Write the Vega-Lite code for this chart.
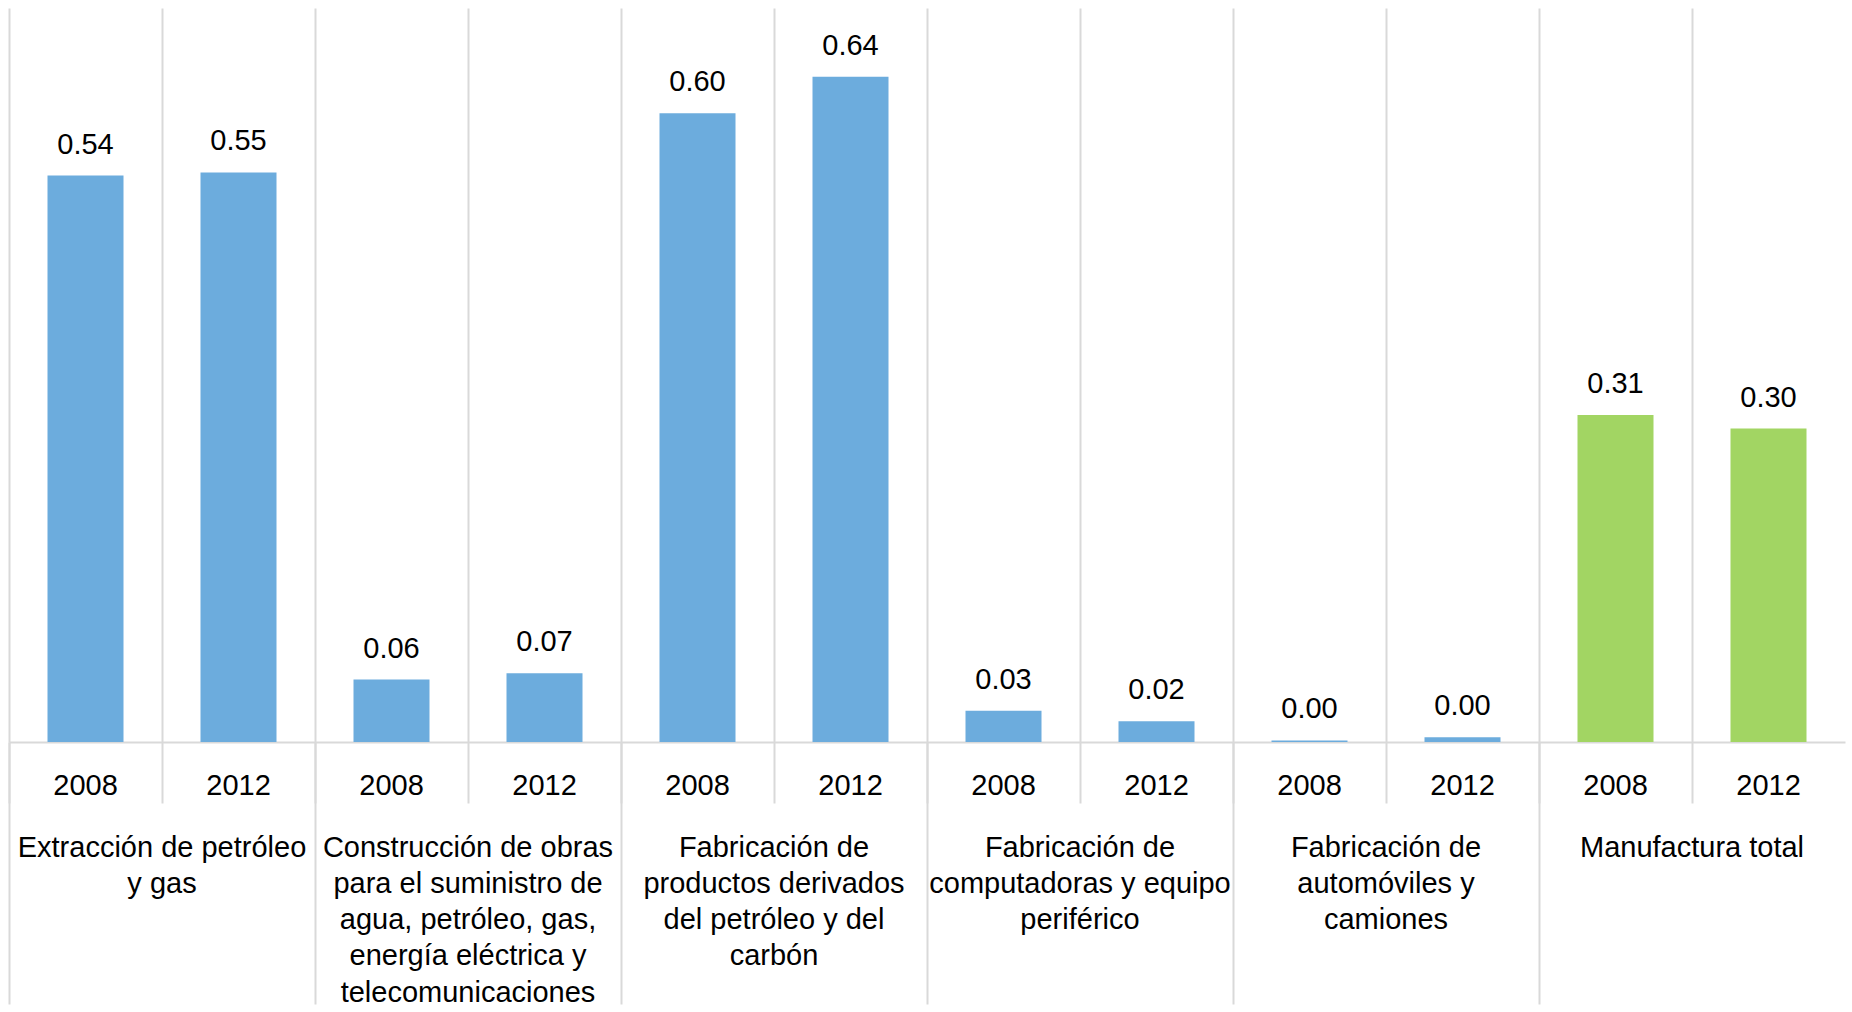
{
  "$schema": "https://vega.github.io/schema/vega-lite/v6.json",
  "width": 1836,
  "height": 734,
  "autosize": {"type": "pad"},
  "padding": 8,
  "background": "white",
  "config": {"view": {"stroke": null}, "font": "Liberation Sans"},
  "data": {
    "values": [
      {"group": "Extracción de petróleo y gas", "year": "2008", "slot": "Extracción de petróleo y gas 2008", "tipo": "Sector", "value": 0.544},
      {"group": "Extracción de petróleo y gas", "year": "2012", "slot": "Extracción de petróleo y gas 2012", "tipo": "Sector", "value": 0.547},
      {"group": "Construcción de obras para el suministro de agua, petróleo, gas, energía eléctrica y telecomunicaciones", "year": "2008", "slot": "Construcción de obras 2008", "tipo": "Sector", "value": 0.060},
      {"group": "Construcción de obras para el suministro de agua, petróleo, gas, energía eléctrica y telecomunicaciones", "year": "2012", "slot": "Construcción de obras 2012", "tipo": "Sector", "value": 0.066},
      {"group": "Fabricación de productos derivados del petróleo y del carbón", "year": "2008", "slot": "Derivados del petróleo 2008", "tipo": "Sector", "value": 0.604},
      {"group": "Fabricación de productos derivados del petróleo y del carbón", "year": "2012", "slot": "Derivados del petróleo 2012", "tipo": "Sector", "value": 0.639},
      {"group": "Fabricación de computadoras y equipo periférico", "year": "2008", "slot": "Computadoras 2008", "tipo": "Sector", "value": 0.030},
      {"group": "Fabricación de computadoras y equipo periférico", "year": "2012", "slot": "Computadoras 2012", "tipo": "Sector", "value": 0.020},
      {"group": "Fabricación de automóviles y camiones", "year": "2008", "slot": "Automóviles 2008", "tipo": "Sector", "value": 0.0015},
      {"group": "Fabricación de automóviles y camiones", "year": "2012", "slot": "Automóviles 2012", "tipo": "Sector", "value": 0.0045},
      {"group": "Manufactura total", "year": "2008", "slot": "Manufactura total 2008", "tipo": "Total", "value": 0.314},
      {"group": "Manufactura total", "year": "2012", "slot": "Manufactura total 2012", "tipo": "Total", "value": 0.301}
    ]
  },
  "layer": [
    {
      "layer": [
        {
          "mark": {"type": "bar", "width": 76},
          "encoding": {
            "x": {
              "field": "slot", "type": "nominal", "sort": null,
              "scale": {"paddingInner": 0, "paddingOuter": 0},
              "axis": {
                "orient": "bottom", "title": null,
                "labelExpr": "slice(datum.value, -4)",
                "bandPosition": 0,
                "grid": true, "gridColor": "#d9d9d9", "gridWidth": 2,
                "ticks": true, "tickSize": 61, "tickColor": "#d9d9d9", "tickWidth": 2,
                "domainColor": "#d9d9d9", "domainWidth": 2,
                "labelFont": "Liberation Sans", "labelFontSize": 29, "labelColor": "#000000",
                "labelBaseline": "alphabetic", "labelPadding": -9, "labelAngle": 0
              }
            },
            "y": {"field": "value", "type": "quantitative", "stack": null, "scale": {"domain": [0, 0.705], "nice": false}, "axis": null},
            "color": {"field": "tipo", "type": "nominal", "scale": {"domain": ["Sector", "Total"], "range": ["#6CACDD", "#A2D563"]}, "legend": null}
          }
        },
        {
          "mark": {"type": "text", "baseline": "alphabetic", "align": "center", "dy": -22, "fontSize": 29, "font": "Liberation Sans", "color": "#000000"},
          "encoding": {
            "x": {"field": "slot", "type": "nominal", "sort": null},
            "y": {"field": "value", "type": "quantitative"},
            "text": {"field": "value", "type": "quantitative", "format": ".2f"}
          }
        }
      ]
    },
    {
      "mark": {"type": "tick", "opacity": 0},
      "encoding": {
        "x": {
          "field": "group", "type": "nominal", "sort": null,
          "scale": {"paddingInner": 0, "paddingOuter": 0},
          "axis": {
            "orient": "bottom", "title": null,
            "bandPosition": 0,
            "ticks": true, "tickSize": 262, "tickColor": "#d9d9d9", "tickWidth": 2,
            "domain": false, "grid": false,
            "labelFont": "Liberation Sans", "labelFontSize": 29, "labelColor": "#000000",
            "labelBaseline": "alphabetic", "labelPadding": -148, "labelLineHeight": 36.3, "labelAngle": 0,
            "labelLimit": 400,
            "labelExpr": "datum.value == 'Extracción de petróleo y gas' ? ['Extracción de petróleo', 'y gas'] : datum.value == 'Construcción de obras para el suministro de agua, petróleo, gas, energía eléctrica y telecomunicaciones' ? ['Construcción de obras', 'para el suministro de', 'agua, petróleo, gas,', 'energía eléctrica y', 'telecomunicaciones'] : datum.value == 'Fabricación de productos derivados del petróleo y del carbón' ? ['Fabricación de', 'productos derivados', 'del petróleo y del', 'carbón'] : datum.value == 'Fabricación de computadoras y equipo periférico' ? ['Fabricación de', 'computadoras y equipo', 'periférico'] : datum.value == 'Fabricación de automóviles y camiones' ? ['Fabricación de', 'automóviles y', 'camiones'] : datum.value"
          }
        },
        "y": {"field": "value", "type": "quantitative"}
      }
    }
  ],
  "resolve": {"scale": {"x": "independent"}, "axis": {"x": "independent"}}
}
